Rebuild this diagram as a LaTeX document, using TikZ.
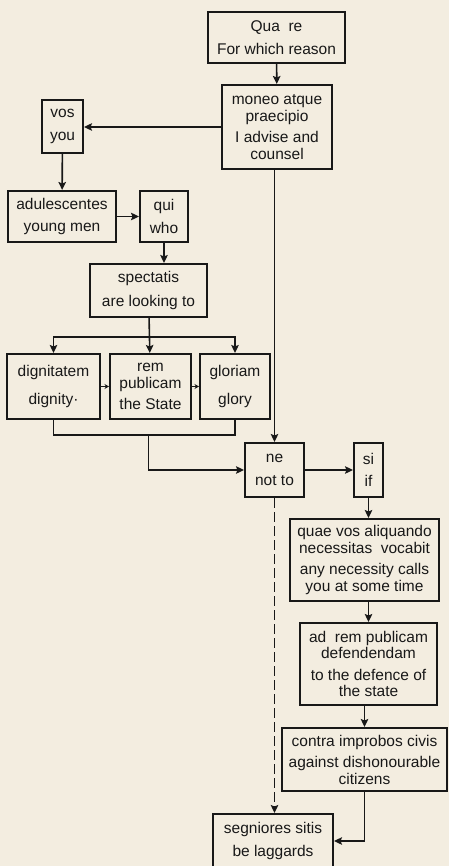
\documentclass[tikz,border=0pt]{standalone}
\usepackage{fontspec}
\setmainfont{Liberation Sans}
\usetikzlibrary{arrows.meta, positioning}
\definecolor{paper}{RGB}{243,237,224}
\definecolor{ink}{RGB}{24,24,24}
\newcommand{\boxfont}{\fontsize{15.5}{16.5}\selectfont}

\begin{document}
\begin{tikzpicture}[x=1pt, y=-1pt,
                box/.style={rectangle, draw=ink, line width=2pt, align=center, inner sep=0pt, font=\boxfont, text=ink},
                arrow/.style={-{Stealth[length=8pt, width=7.5pt, inset=1.5pt]}, line width=1.6pt, draw=ink},
                short/.style={-{Stealth[length=4.5pt, width=5pt]}, line width=1.4pt, draw=ink},
                link/.style={line width=1.6pt, draw=ink}
            ]
                \fill[paper] (0,0) rectangle (449,866);
                \useasboundingbox (0,0) rectangle (449,866);
                \clip (0,0) rectangle (449,866);

                % top of the sentence
                \node[box, minimum width=137pt, minimum height=51pt] (quare) at (276.5,37.5) {Qua\ \ re\\[6pt]For which reason};
                \node[box, minimum width=110pt, minimum height=84pt] (moneo) at (277,127) {moneo atque\\praecipio\\[5pt]I advise and\\counsel};
                \node[box, minimum width=41pt, minimum height=53pt] (vos) at (62.5,126.5) {vos\\[6pt]you};

                % left branch
                \node[box, minimum width=108pt, minimum height=51pt] (adul) at (62,216.5) {adulescentes\\[6pt]young men};
                \node[box, minimum width=48pt, minimum height=51pt, right=22pt of adul] (qui) {qui\\[6pt]who};
                \node[box, minimum width=117pt, minimum height=53pt] (spect) at (148.5,290.5) {spectatis\\[8pt]are looking to};
                \node[box, minimum width=93pt, minimum height=65pt] (dign) at (53.5,386.5) {dignitatem\\[12pt]dignity·};
                \node[box, minimum width=81pt, minimum height=65pt, right=8pt of dign] (rem) {rem\\publicam\\[5pt]the State};
                \node[box, minimum width=70pt, minimum height=65pt, right=7pt of rem] (glor) {gloriam\\[12pt]glory};

                % right branch
                \node[box, minimum width=59pt, minimum height=54pt] (ne) at (274.5,470) {ne\\[6pt]not to};
                \node[box, minimum width=29pt, minimum height=54pt] (si) at (368.5,470) {si\\[6pt]if};
                \node[box, minimum width=149pt, minimum height=82pt] (quae) at (364.5,560) {quae vos aliquando\\necessitas\ \ vocabit\\[5pt]any necessity calls\\you at some time};
                \node[box, minimum width=137pt, minimum height=82pt] (adrem) at (368.5,664) {ad\ \ rem publicam\\defendendam\\[5pt]to the defence of\\the state};
                \node[box, minimum width=165pt, minimum height=63pt] (contra) at (364.5,759.5) {contra improbos civis\\[5pt]against dishonourable\\citizens};
                \node[box, minimum width=120pt, minimum height=54pt] (segn) at (273,841) {segniores sitis\\[6pt]be laggards};

                \coordinate (fork) at (148.5,337);
                \coordinate (merge) at (148.5,435);

                \draw[arrow] (quare) -- (moneo);
                \draw[arrow] (moneo.west) -- (moneo.west -| vos.east);
                \draw[arrow] (vos) -- (adul);
                \draw[arrow] (adul) -- (qui);
                \draw[arrow] (qui.south) -- (qui.south |- spect.north);
                \draw[arrow] (spect) -- (rem);
                \draw[arrow] (fork) -| (dign.north);
                \draw[arrow] (fork) -| (glor.north);
                \draw[short] (dign) -- (rem);
                \draw[short] (rem) -- (glor);
                \draw[link] (dign.south) |- (merge) -| (glor.south);
                \draw[arrow] (merge) |- (ne.west);
                \draw[arrow] (ne.north |- moneo.south) -- (ne.north);
                \draw[arrow] (ne) -- (si);
                \draw[arrow] (si.south) -- (si.south |- quae.north);
                \draw[arrow] (adrem.north |- quae.south) -- (adrem.north);
                \draw[arrow] (contra.north |- adrem.south) -- (contra.north);
                \draw[arrow] (contra.south) |- (segn.east);
                \draw[arrow, dash pattern=on 10pt off 4pt] (ne.south) -- (ne.south |- segn.north);
            \end{tikzpicture}
\end{document}
